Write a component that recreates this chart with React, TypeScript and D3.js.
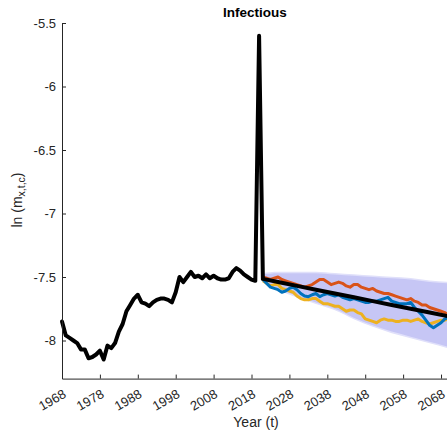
import React, { useEffect, useRef } from "react";
import * as d3 from "d3";

// observed log death rate, 1968..2021 (spike in 2020)
const histStart = 1968;
const histValues = [
  -7.85, -7.96, -7.98, -8.0, -8.02, -8.07, -8.07, -8.14, -8.13, -8.11,
  -8.08, -8.15, -8.04, -8.06, -8.02, -7.93, -7.87, -7.77, -7.72, -7.67,
  -7.64, -7.7, -7.71, -7.73, -7.7, -7.68, -7.67, -7.67, -7.68, -7.7,
  -7.62, -7.5, -7.54, -7.5, -7.46, -7.5, -7.49, -7.51, -7.48, -7.51,
  -7.49, -7.51, -7.52, -7.52, -7.51, -7.46, -7.43, -7.45, -7.48, -7.5,
  -7.52, -7.53, -5.6, -7.51,
];

// simulated paths, 2021..2070
const simStart = 2021;
const simOrange = [
  -7.5, -7.51, -7.52, -7.51, -7.5, -7.52, -7.53, -7.54, -7.55, -7.56,
  -7.57, -7.58, -7.57, -7.56, -7.54, -7.52, -7.52, -7.54, -7.56, -7.55,
  -7.54, -7.55, -7.57, -7.58, -7.56, -7.56, -7.58, -7.59, -7.6, -7.59,
  -7.61, -7.62, -7.63, -7.63, -7.64, -7.65, -7.66, -7.67, -7.68, -7.67,
  -7.69, -7.7, -7.72, -7.72, -7.74, -7.75, -7.76, -7.77, -7.78, -7.8,
];
const simBlue = [
  -7.52, -7.55, -7.58, -7.59, -7.6, -7.62, -7.61, -7.59, -7.58, -7.6,
  -7.63, -7.65, -7.655, -7.64, -7.63, -7.655, -7.64, -7.63, -7.64, -7.65,
  -7.64, -7.66, -7.67, -7.68, -7.67, -7.68, -7.69, -7.7, -7.7, -7.69,
  -7.69, -7.68, -7.67, -7.66, -7.69, -7.7, -7.71, -7.71, -7.71, -7.7,
  -7.74, -7.77, -7.8, -7.84, -7.88, -7.9, -7.88, -7.86, -7.83, -7.82,
];
const simYellow = [
  -7.53, -7.55, -7.57, -7.56, -7.56, -7.59, -7.6, -7.61, -7.62, -7.65,
  -7.67, -7.68, -7.68, -7.67, -7.67, -7.69, -7.71, -7.71, -7.72, -7.73,
  -7.73, -7.75, -7.77, -7.76, -7.76, -7.78, -7.79, -7.83, -7.84, -7.85,
  -7.86, -7.84, -7.83, -7.84, -7.84, -7.85, -7.85, -7.84, -7.84, -7.85,
  -7.84, -7.83, -7.85, -7.86, -7.87, -7.86, -7.85, -7.84, -7.84, -7.83,
];

// forecast median and interval
const fanYears = [2021, 2025, 2030, 2035, 2040, 2045, 2050, 2055, 2060, 2065, 2070];
const fanUpper = [-7.48, -7.47, -7.47, -7.47, -7.48, -7.49, -7.5, -7.51, -7.52, -7.54, -7.55];
const fanLower = [-7.53, -7.59, -7.65, -7.7, -7.75, -7.82, -7.88, -7.93, -7.97, -8.01, -8.05];
const fanMedian = [-7.515, -7.54, -7.57, -7.6, -7.63, -7.66, -7.69, -7.72, -7.75, -7.78, -7.81];

const xTicks = [1968, 1978, 1988, 1998, 2008, 2018, 2028, 2038, 2048, 2058, 2068];
const yTicks = [-5.5, -6, -6.5, -7, -7.5, -8];

const W = 447;
const H = 433;
const font = "'Liberation Sans', Arial, Helvetica, sans-serif";

function draw(node: SVGSVGElement) {
  const svg = d3.select(node);
  svg.selectAll("*").remove();

  const x = d3.scaleLinear().domain([1968, 2070]).range([62, 448.6]);
  const y = d3.scaleLinear().domain([-8.3, -5.5]).range([378.6, 23]);

  const fan = fanYears.map((yr, i) => ({ yr, lo: fanLower[i], hi: fanUpper[i], med: fanMedian[i] }));

  const band = (pad: number) =>
    d3.area<any>()
      .x(d => x(d.yr))
      .y0(d => y(d.lo - pad))
      .y1(d => y(d.hi + pad))
      .curve(d3.curveMonotoneX);

  // soft edge, then the interval itself
  svg.append("path").attr("d", band(0.012)(fan)).attr("fill", "#e0e0fa");
  svg.append("path").attr("d", band(0)(fan)).attr("fill", "#c6c6f5");

  const line = d3.line<number>().x((d, i) => x(simStart + i)).y(d => y(d));
  const sims: [number[], string][] = [
    [simOrange, "#D95319"],
    [simYellow, "#EDB120"],
    [simBlue, "#0072BD"],
  ];
  sims.forEach(([vals, col]) => {
    svg.append("path")
      .attr("d", line(vals))
      .attr("fill", "none")
      .attr("stroke", col)
      .attr("stroke-width", 3)
      .attr("stroke-linejoin", "round");
  });

  const histLine = d3.line<number>().x((d, i) => x(histStart + i)).y(d => y(d));
  svg.append("path")
    .attr("d", histLine(histValues))
    .attr("fill", "none")
    .attr("stroke", "#000")
    .attr("stroke-width", 4)
    .attr("stroke-linejoin", "round")
    .attr("stroke-linecap", "round");

  const medLine = d3.line<any>().x(d => x(d.yr)).y(d => y(d.med));
  svg.append("path")
    .attr("d", medLine(fan))
    .attr("fill", "none")
    .attr("stroke", "#000")
    .attr("stroke-width", 4)
    .attr("stroke-linecap", "round");

  // axes
  const gx = svg.append("g")
    .attr("transform", `translate(0,${y(-8.3)})`)
    .call(d3.axisBottom(x).tickValues(xTicks).tickSize(-4).tickSizeOuter(0).tickFormat(d => String(d)));
  gx.selectAll("text")
    .attr("text-anchor", "end")
    .attr("dy", null)
    .attr("y", null)
    .attr("transform", "translate(4.5,18) rotate(-30)")
    .style("font-size", "13px");

  const gy = svg.append("g")
    .attr("transform", `translate(${x(1968)},0)`)
    .call(d3.axisLeft(y).tickValues(yTicks).tickSize(-4).tickSizeOuter(0).tickPadding(6).tickFormat(d => String(d)));
  gy.selectAll("text").style("font-size", "13px");

  svg.selectAll(".domain, .tick line").attr("stroke", "#262626");
  svg.selectAll(".tick text").attr("fill", "#262626").style("font-family", font);

  svg.append("text")
    .attr("x", 255)
    .attr("y", 17)
    .attr("text-anchor", "middle")
    .style("font-family", font)
    .style("font-weight", "bold")
    .style("font-size", "13.5px")
    .text("Infectious");

  svg.append("text")
    .attr("x", 256)
    .attr("y", 427)
    .attr("text-anchor", "middle")
    .attr("fill", "#262626")
    .style("font-family", font)
    .style("font-size", "14px")
    .text("Year (t)");

  const yl = svg.append("text")
    .attr("transform", "translate(22,200) rotate(-90)")
    .attr("text-anchor", "middle")
    .attr("fill", "#262626")
    .style("font-family", font)
    .style("font-size", "14px");
  yl.append("tspan").text("ln (m");
  yl.append("tspan").attr("dy", 3).style("font-size", "10.5px").text("x,t,c");
  yl.append("tspan").attr("dy", -3).text(")");
}

export default function App() {
  const ref = useRef<SVGSVGElement>(null);
  useEffect(() => {
    if (ref.current) draw(ref.current);
  }, []);
  return (
    <svg
      ref={ref}
      width={W}
      height={H}
      style={{ position: "absolute", left: 0, top: 0, background: "#fff" }}
    />
  );
}
